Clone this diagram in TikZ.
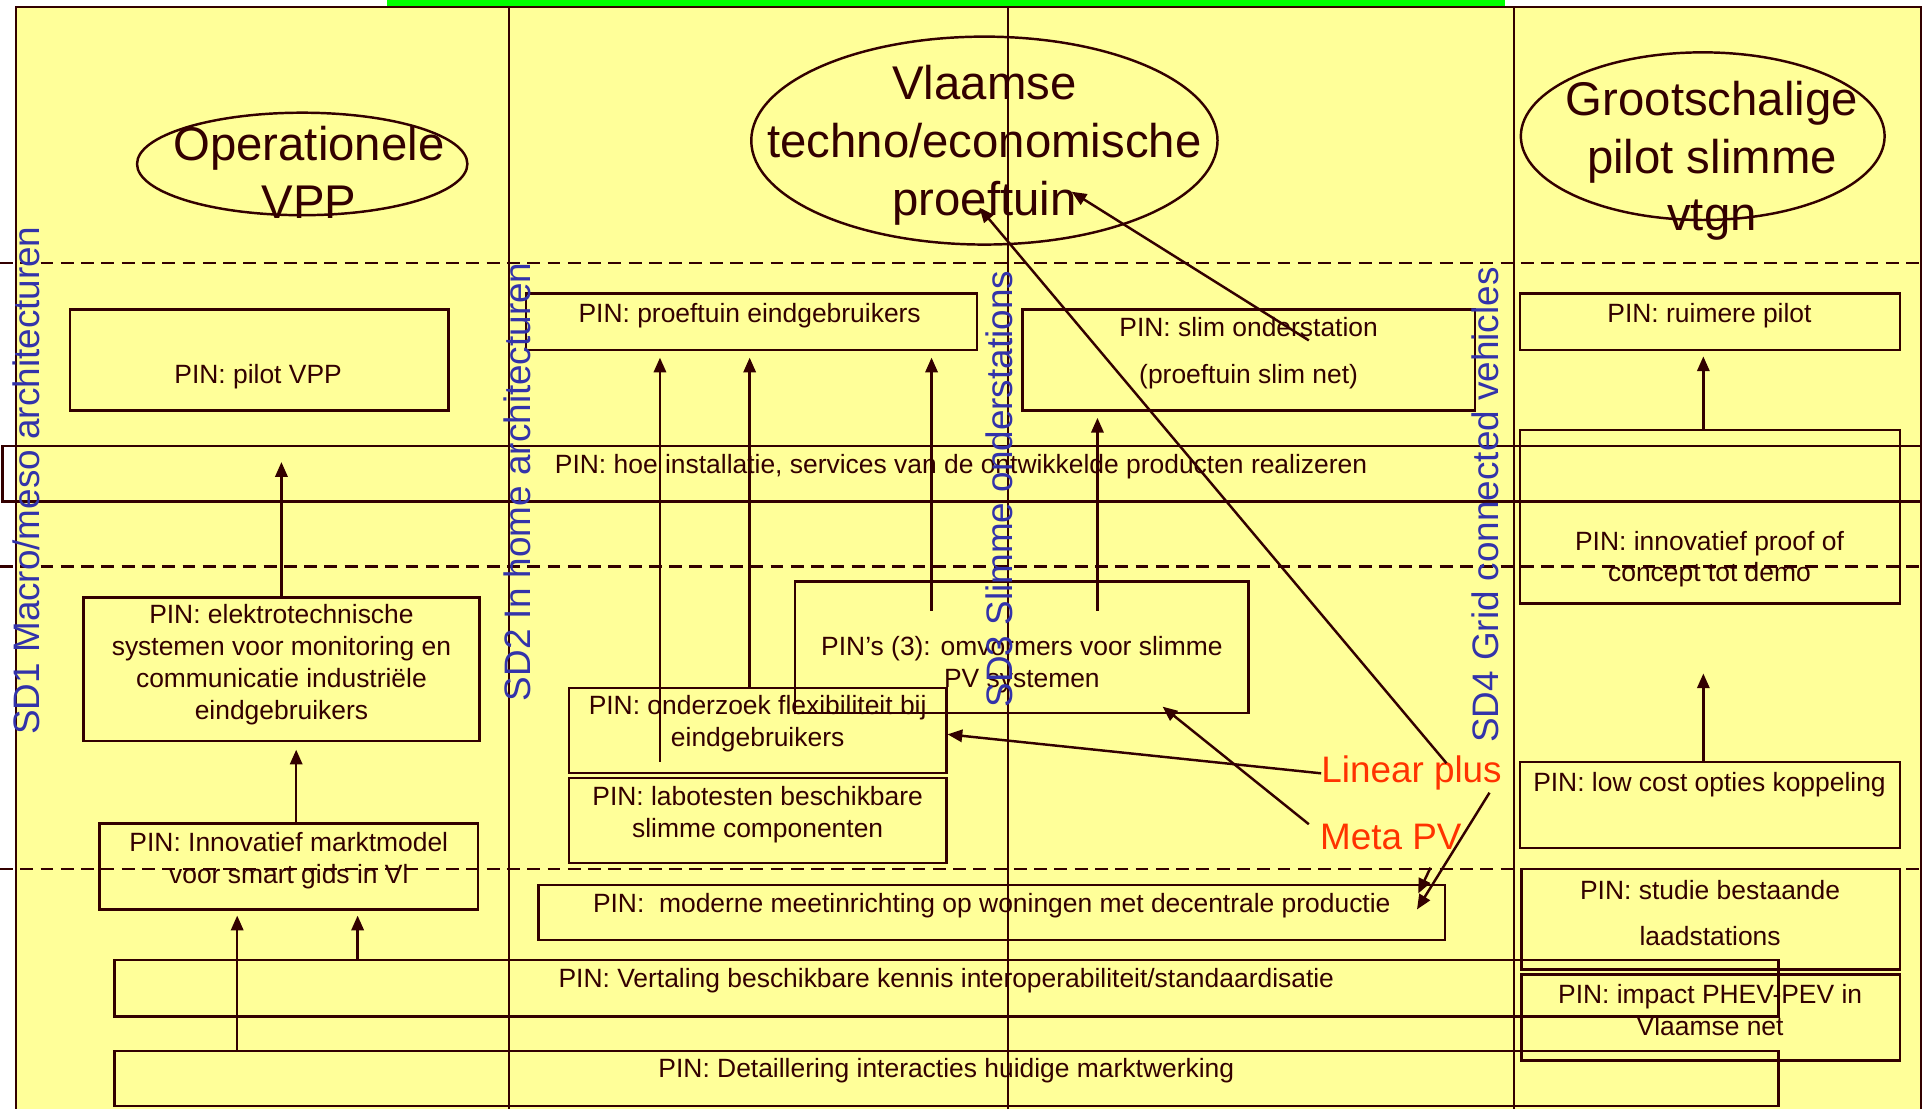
\documentclass[tikz,border=0pt]{standalone}
\usepackage{fontspec}
\setmainfont{Liberation Sans}
\usetikzlibrary{arrows.meta,positioning,shapes.geometric}

\definecolor{linebrown}{RGB}{51,0,0}
\definecolor{paleyellow}{RGB}{255,255,153}
\definecolor{topgreen}{RGB}{0,255,0}
\definecolor{sdblue}{RGB}{51,51,170}
\definecolor{partnerred}{RGB}{255,51,0}

\tikzset{
  colline/.style={draw=linebrown, line width=2pt},
  sepline/.style={draw=linebrown, line width=2pt, dash pattern=on 10.5pt off 6pt},
  pinbox/.style={draw=linebrown, line width=2pt, inner sep=0pt},
  pintext/.style={text=linebrown, align=center, inner sep=0pt,
    font=\fontsize{21.5}{26}\selectfont},
  goalring/.style={draw=linebrown, line width=2pt, ellipse, inner sep=0pt},
  goaltext/.style={text=linebrown, align=center, inner sep=0pt,
    font=\fontsize{38.5}{47}\selectfont},
  sdlabel/.style={text=sdblue, rotate=90, anchor=base, inner sep=0pt,
    font=\fontsize{30}{36}\selectfont},
  partner/.style={text=partnerred, anchor=base west, inner sep=0pt,
    font=\fontsize{30}{36}\selectfont},
  arr/.style={draw=linebrown, line width=2pt, -{Triangle[length=12pt,width=10pt]}}
}

\begin{document}
\begin{tikzpicture}[x=1pt, y={(0pt,-1pt)}]
\useasboundingbox (0,0) rectangle (1568,902);

% achtergrond en kader
\fill[white] (0,0) rectangle (1568,902);
\fill[paleyellow] (13,5.5) rectangle (1563,902);
\fill[topgreen] (315,0) rectangle (1225,5.5);
\draw[colline] (13,902) -- (13,5.5) -- (1563,5.5) -- (1563,902);
\foreach \x in {414,820,1232}
  \draw[colline] (\x,5.5) -- (\x,902);
\foreach \y in {214,461,707}
  \draw[sepline] (0,\y) -- (1563,\y);

% doelen
\node[goalring, minimum width=268.8pt, minimum height=83.4pt] (vpp) at (245.9,133.4) {};
\node[goalring, minimum width=379.4pt, minimum height=169.2pt] (vlaams) at (801,114.4) {};
\node[goalring, minimum width=296pt, minimum height=136.4pt] (grootsch) at (1385.5,110.8) {};
\node[goaltext] (vpptxt) at (251.4,140.5) {Operationele\\VPP};
\node[goaltext] (vlaamstxt) at (801,118) {Vlaamse\\techno/economische\\proeftuin};
\node[goaltext] (grootschtxt) at (1393,131) {Grootschalige\\pilot slimme\\vtgn};

% PIN kaders
\node[pinbox, minimum width=1561pt, minimum height=45pt] (hoe) at (782.5,385.5) {};
\node[pinbox, minimum width=308pt, minimum height=82pt] (pilot) at (211,293) {};
\node[pinbox, minimum width=322pt, minimum height=117pt] (elektro) at (229,544.5) {};
\node[pinbox, minimum width=308pt, minimum height=70pt] (innov) at (235,705) {};
\node[pinbox, minimum width=1354pt, minimum height=46pt] (vertaling) at (770,804) {};
\node[pinbox, minimum width=1354pt, minimum height=45pt] (detail) at (770,877.5) {};
\node[pinbox, minimum width=367pt, minimum height=46pt] (proefeind) at (611.5,262) {};
\node[pinbox, minimum width=369pt, minimum height=107pt] (omvormers) at (831.5,526.5) {};
\node[pinbox, minimum width=307pt, minimum height=69pt] (onderzoek) at (616.5,594.5) {};
\node[pinbox, minimum width=307pt, minimum height=69pt] (labo) at (616.5,667.5) {};
\node[pinbox, minimum width=738pt, minimum height=45pt] (meet) at (807,742.5) {};
\node[pinbox, minimum width=368pt, minimum height=82pt] (slim) at (1016,293) {};
\node[pinbox, minimum width=309pt, minimum height=46pt] (ruimere) at (1391.5,262) {};
\node[pinbox, minimum width=309pt, minimum height=141pt] (proof) at (1391.5,420.5) {};
\node[pinbox, minimum width=309pt, minimum height=70pt] (lowcost) at (1391.5,655) {};
\node[pinbox, minimum width=308pt, minimum height=82pt] (studie) at (1392,748) {};
\node[pinbox, minimum width=308pt, minimum height=70pt] (impact) at (1392,828) {};

% PIN teksten
\node[pintext] (hoetxt) at (782,379.5) {PIN: hoe installatie, services van de ontwikkelde producten realizeren};
\node[pintext] (pilottxt) at (210,306.5) {PIN: pilot VPP};
\node[pintext] (elektrotxt) at (229,541) {PIN: elektrotechnische\\systemen voor monitoring en\\communicatie industriële\\eindgebruikers};
\node[pintext] (innovtxt) at (235,700) {PIN: Innovatief marktmodel\\voor smart gids in Vl};
\node[pintext] (vertalingtxt) at (770,798) {PIN: Vertaling beschikbare kennis interoperabiliteit/standaardisatie};
\node[pintext] (detailtxt) at (770,871.5) {PIN: Detaillering interacties huidige marktwerking};
\node[pintext] (proefeindtxt) at (610,256.5) {PIN: proeftuin eindgebruikers};
\node[pintext] (omvormerstxt) at (831.5,541) {PIN’s (3): omvormers voor slimme\\PV systemen};
\node[pintext] (onderzoektxt) at (616.5,589) {PIN: onderzoek flexibiliteit bij\\eindgebruikers};
\node[pintext] (labotxt) at (616.5,663) {PIN: labotesten beschikbare\\slimme componenten};
\node[pintext] (meettxt) at (807,737) {PIN:\ \ moderne meetinrichting op woningen met decentrale productie};
\node[pintext] (slimtxt) at (1016,287.5) {PIN: slim onderstation\\[12pt](proeftuin slim net)};
\node[pintext] (ruimeretxt) at (1391,256.5) {PIN: ruimere pilot};
\node[pintext] (prooftxt) at (1391,455) {PIN: innovatief proof of\\concept tot demo};
\node[pintext] (lowcosttxt) at (1391,638.5) {PIN: low cost opties koppeling};
\node[pintext] (studietxt) at (1391.5,743) {PIN: studie bestaande\\[12pt]laadstations};
\node[pintext] (impacttxt) at (1391.5,822) {PIN: impact PHEV-PEV in\\Vlaamse net};

% subdomeinen
\node[sdlabel] (sd1) at (32,391) {SD1 Macro/meso architecturen};
\node[sdlabel] (sd2) at (432,392) {SD2 In home architecturen};
\node[sdlabel] (sd3) at (824,398) {SD3 Slimme onderstations};
\node[sdlabel] (sd4) at (1219,411) {SD4 Grid connected vehicles};

% partners
\node[partner] (linear) at (1075,637) {Linear plus};
\node[partner] (meta) at (1074,691.5) {Meta PV};

% pijlen
\coordinate (a1) at (229,376);
\coordinate (a2) at (241,610);
\coordinate (a3) at (291,745);
\coordinate (a4) at (193,745);
\draw[arr] (elektro.north) -- (a1);
\draw[arr] (innov.north -| a2) -- (a2);
\draw[arr] (vertaling.north -| a3) -- (a3);
\draw[arr] (detail.north -| a4) -- (a4);

\coordinate (b1s) at (537,620);
\coordinate (b1) at (537,291);
\coordinate (b2) at (610,291);
\coordinate (b3s) at (758,497);
\coordinate (b3) at (758,291);
\coordinate (b4s) at (893,497);
\coordinate (b4) at (893,340);
\draw[arr] (b1s) -- (b1);
\draw[arr] (onderzoek.north -| b2) -- (b2);
\draw[arr] (b3s) -- (b3);
\draw[arr] (b4s) -- (b4);

\coordinate (c1) at (1386,290);
\coordinate (c2) at (1386,548);
\draw[arr] (proof.north -| c1) -- (c1);
\draw[arr] (lowcost.north -| c2) -- (c2);

\coordinate (d1) at (946,575);
\coordinate (d2s) at (1177,621);
\coordinate (d2) at (797,169);
\coordinate (d3s) at (1065,277);
\coordinate (d3) at (872,156);
\coordinate (d4s) at (1212,645);
\coordinate (d4) at (1153,740);
\coordinate (d5s) at (1164,706);
\coordinate (d5) at (1154,727);
\draw[arr] (linear.west) -- ([yshift=-3pt]onderzoek.east);
\draw[arr] ([xshift=-9pt]meta.north west) -- (d1);
\draw[arr] (d2s) -- (d2);
\draw[arr] (d3s) -- (d3);
\draw[arr] (d4s) -- (d4);
\draw[arr] (d5s) -- (d5);
\end{tikzpicture}
\end{document}
